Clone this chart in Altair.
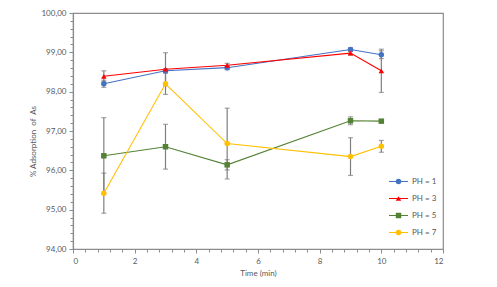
import altair as alt
import pandas as pd

# ---- data ----
time = [1, 3, 5, 9, 10]
series = ["PH = 1", "PH = 3", "PH = 5", "PH = 7"]
ph1 = [98.20, 98.53, 98.61, 99.07, 98.94]
ph3 = [98.39, 98.57, 98.67, 98.98, 98.53]
ph5 = [96.37, 96.60, 96.14, 97.26, 97.25]
ph7 = [95.42, 98.20, 96.68, 96.35, 96.61]
err1 = [0.09, 0.05, 0.05, 0.05, 0.10]
err3 = [0.14, 0.42, 0.05, 0.05, 0.55]
err5 = [0.97, 0.57, 0.13, 0.10, 0.03]
err7 = [0.51, 0.27, 0.90, 0.48, 0.15]
colors = ["#4472C4", "#FF0000", "#548235", "#FFC000"]
shapes = ["circle", "triangle-up", "square", "circle"]
x_ticks = [round(i * 0.4, 1) for i in range(31)]
y_ticks = [round(94 + i * 0.2, 1) for i in range(31)]

rows = []
for name, vals, errs in zip(series, [ph1, ph3, ph5, ph7], [err1, err3, err5, err7]):
    for t, v, e in zip(time, vals, errs):
        rows.append({"Time": t, "Series": name, "Value": v,
                     "Lo": v - e, "Hi": v + e})
df = pd.DataFrame(rows)

FONT = "Lato"
GREY = "#595959"

xs = alt.Scale(domain=[0, 12], nice=False, zero=False)
ys = alt.Scale(domain=[94, 100], nice=False, zero=False)

x_axis = alt.Axis(
    title="Time (min)", values=x_ticks, tickCount=len(x_ticks),
    labelExpr="abs(datum.value - round(datum.value/2)*2) < 0.01 ? format(datum.value, 'd') : ''",
    tickSize={"condition": {"test": "abs(datum.value - round(datum.value/2)*2) < 0.01", "value": 4}, "value": 3},
    grid=False, labelOverlap=False, labelPadding=4, titlePadding=4,
)
y_axis = alt.Axis(
    title="% Adsorption\u00a0 of\u00a0 As", values=y_ticks, tickCount=len(y_ticks),
    labelExpr="abs(datum.value - round(datum.value)) < 0.01 ? replace(format(datum.value, '.2f'), '.', ',') : ''",
    tickSize={"condition": {"test": "abs(datum.value - round(datum.value)) < 0.01", "value": 4}, "value": 3},
    grid=False, labelOverlap=False, labelPadding=3, titlePadding=3, titleY=128,
)

color_line = alt.Color(
    "Series:N", scale=alt.Scale(domain=series, range=colors),
    legend=alt.Legend(
        title=None, orient="none", legendX=315, legendY=160,
        symbolType="stroke", symbolSize=361, symbolStrokeWidth=1.1,
        clipHeight=17, rowPadding=0, padding=0, labelOffset=3,
    ),
)

base = alt.Chart(df)

err_rule = base.mark_rule(color="#7F7F7F", strokeWidth=1.2).encode(
    x=alt.X("Time:Q", scale=xs, axis=x_axis),
    y=alt.Y("Lo:Q", scale=ys, axis=y_axis),
    y2="Hi:Q",
)
err_lo = base.mark_tick(color="#7F7F7F", orient="horizontal", size=5, thickness=1.2).encode(
    x=alt.X("Time:Q", scale=xs), y=alt.Y("Lo:Q", scale=ys))
err_hi = base.mark_tick(color="#7F7F7F", orient="horizontal", size=5, thickness=1.2).encode(
    x=alt.X("Time:Q", scale=xs), y=alt.Y("Hi:Q", scale=ys))

lines = base.mark_line(strokeWidth=1.1).encode(
    x=alt.X("Time:Q", scale=xs),
    y=alt.Y("Value:Q", scale=ys),
    color=color_line,
    detail="Series:N",
)

marker_legend = alt.Legend(
    title=None, orient="none", legendX=321.5, legendY=160,
    symbolSize=30, clipHeight=17, rowPadding=0, padding=0,
    labelExpr="''", symbolStrokeWidth=0,
)
points = base.mark_point(filled=True, size=30, opacity=1).encode(
    x=alt.X("Time:Q", scale=xs),
    y=alt.Y("Value:Q", scale=ys),
    color=alt.Color("Series:N", scale=alt.Scale(domain=series, range=colors), legend=marker_legend),
    shape=alt.Shape("Series:N", scale=alt.Scale(domain=series, range=shapes), legend=marker_legend),
)

chart = (
    alt.layer(err_rule, err_lo, err_hi, lines, points)
    .resolve_legend(color="independent", shape="independent")
    .resolve_scale(color="independent")
    .properties(
        width=370, height=236,
        autosize=alt.AutoSizeParams(type="none"),
        padding={"left": 65, "top": 5, "right": 46, "bottom": 30},
    )
    .configure_view(stroke="#8C8C8C", strokeWidth=1.2)
    .configure_axis(
        labelFont=FONT, titleFont=FONT, labelFontSize=8, titleFontSize=8,
        labelColor=GREY, titleColor=GREY, titleFontWeight="normal",
        domainColor="#8C8C8C", tickColor="#8C8C8C", domainWidth=1.2,
    )
    .configure_legend(labelFont=FONT, labelFontSize=8, labelColor=GREY)
)

chart.save("out.html", embed_options={"renderer": "svg", "actions": False})
